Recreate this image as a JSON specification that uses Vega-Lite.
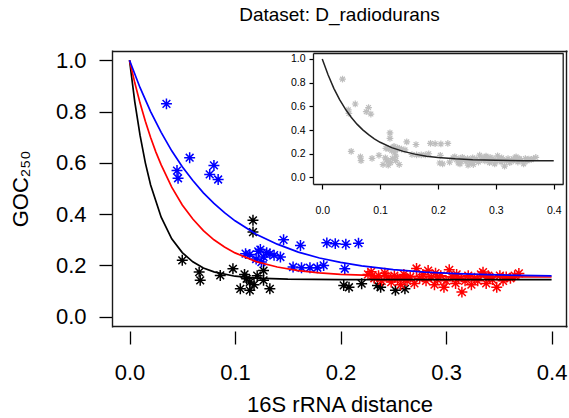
{
  "$schema": "https://vega.github.io/schema/vega-lite/v6.json",
  "width": 455,
  "height": 277,
  "autosize": "none",
  "padding": {"left": 112, "top": 50, "right": 2, "bottom": 91},
  "background": "white",
  "title": {"text": "Dataset: D_radiodurans", "fontSize": 19, "fontWeight": "normal", "color": "black", "anchor": "middle", "offset": 9, "baseline": "alphabetic"},
  "config": {
    "font": "Liberation Sans",
    "view": {"stroke": null},
    "axis": {"grid": false, "labelColor": "black", "tickColor": "black", "titleColor": "black"}
  },
  "datasets": {
    "pts": [
      {"group": "black", "x": 0.050, "y": 0.22},
      {"group": "black", "x": 0.066, "y": 0.174},
      {"group": "black", "x": 0.067, "y": 0.142},
      {"group": "black", "x": 0.086, "y": 0.161},
      {"group": "black", "x": 0.098, "y": 0.187},
      {"group": "black", "x": 0.105, "y": 0.109},
      {"group": "black", "x": 0.109, "y": 0.165},
      {"group": "black", "x": 0.111, "y": 0.148},
      {"group": "black", "x": 0.114, "y": 0.135},
      {"group": "black", "x": 0.114, "y": 0.103},
      {"group": "black", "x": 0.118, "y": 0.125},
      {"group": "black", "x": 0.117, "y": 0.376},
      {"group": "black", "x": 0.117, "y": 0.33},
      {"group": "black", "x": 0.127, "y": 0.18},
      {"group": "black", "x": 0.127, "y": 0.142},
      {"group": "black", "x": 0.133, "y": 0.109},
      {"group": "black", "x": 0.121, "y": 0.16},
      {"group": "black", "x": 0.203, "y": 0.122},
      {"group": "black", "x": 0.208, "y": 0.115},
      {"group": "black", "x": 0.220, "y": 0.129},
      {"group": "black", "x": 0.235, "y": 0.122},
      {"group": "black", "x": 0.238, "y": 0.115},
      {"group": "black", "x": 0.252, "y": 0.103},
      {"group": "black", "x": 0.261, "y": 0.109},
      {"group": "red", "x": 0.226, "y": 0.165},
      {"group": "red", "x": 0.229, "y": 0.175},
      {"group": "red", "x": 0.232, "y": 0.15},
      {"group": "red", "x": 0.236, "y": 0.16},
      {"group": "red", "x": 0.239, "y": 0.14},
      {"group": "red", "x": 0.242, "y": 0.17},
      {"group": "red", "x": 0.245, "y": 0.155},
      {"group": "red", "x": 0.248, "y": 0.135},
      {"group": "red", "x": 0.251, "y": 0.16},
      {"group": "red", "x": 0.254, "y": 0.148},
      {"group": "red", "x": 0.257, "y": 0.125},
      {"group": "red", "x": 0.260, "y": 0.165},
      {"group": "red", "x": 0.260, "y": 0.15},
      {"group": "red", "x": 0.263, "y": 0.14},
      {"group": "red", "x": 0.266, "y": 0.155},
      {"group": "red", "x": 0.270, "y": 0.13},
      {"group": "red", "x": 0.272, "y": 0.188},
      {"group": "red", "x": 0.275, "y": 0.15},
      {"group": "red", "x": 0.278, "y": 0.165},
      {"group": "red", "x": 0.281, "y": 0.14},
      {"group": "red", "x": 0.283, "y": 0.18},
      {"group": "red", "x": 0.286, "y": 0.155},
      {"group": "red", "x": 0.289, "y": 0.125},
      {"group": "red", "x": 0.290, "y": 0.17},
      {"group": "red", "x": 0.292, "y": 0.145},
      {"group": "red", "x": 0.295, "y": 0.16},
      {"group": "red", "x": 0.298, "y": 0.115},
      {"group": "red", "x": 0.300, "y": 0.14},
      {"group": "red", "x": 0.303, "y": 0.183},
      {"group": "red", "x": 0.306, "y": 0.155},
      {"group": "red", "x": 0.309, "y": 0.13},
      {"group": "red", "x": 0.310, "y": 0.165},
      {"group": "red", "x": 0.312, "y": 0.15},
      {"group": "red", "x": 0.315, "y": 0.096},
      {"group": "red", "x": 0.318, "y": 0.14},
      {"group": "red", "x": 0.321, "y": 0.16},
      {"group": "red", "x": 0.324, "y": 0.125},
      {"group": "red", "x": 0.327, "y": 0.15},
      {"group": "red", "x": 0.330, "y": 0.14},
      {"group": "red", "x": 0.333, "y": 0.165},
      {"group": "red", "x": 0.335, "y": 0.174},
      {"group": "red", "x": 0.338, "y": 0.13},
      {"group": "red", "x": 0.340, "y": 0.16},
      {"group": "red", "x": 0.341, "y": 0.155},
      {"group": "red", "x": 0.344, "y": 0.145},
      {"group": "red", "x": 0.348, "y": 0.115},
      {"group": "red", "x": 0.351, "y": 0.16},
      {"group": "red", "x": 0.354, "y": 0.14},
      {"group": "red", "x": 0.357, "y": 0.155},
      {"group": "red", "x": 0.361, "y": 0.15},
      {"group": "red", "x": 0.365, "y": 0.16},
      {"group": "red", "x": 0.369, "y": 0.169},
      {"group": "blue", "x": 0.035, "y": 0.83},
      {"group": "blue", "x": 0.057, "y": 0.62},
      {"group": "blue", "x": 0.045, "y": 0.57},
      {"group": "blue", "x": 0.046, "y": 0.54},
      {"group": "blue", "x": 0.080, "y": 0.59},
      {"group": "blue", "x": 0.076, "y": 0.555},
      {"group": "blue", "x": 0.084, "y": 0.535},
      {"group": "blue", "x": 0.146, "y": 0.30},
      {"group": "blue", "x": 0.162, "y": 0.278},
      {"group": "blue", "x": 0.187, "y": 0.288},
      {"group": "blue", "x": 0.195, "y": 0.285},
      {"group": "blue", "x": 0.205, "y": 0.283},
      {"group": "blue", "x": 0.217, "y": 0.287},
      {"group": "blue", "x": 0.110, "y": 0.246},
      {"group": "blue", "x": 0.114, "y": 0.243},
      {"group": "blue", "x": 0.122, "y": 0.255},
      {"group": "blue", "x": 0.124, "y": 0.262},
      {"group": "blue", "x": 0.127, "y": 0.233},
      {"group": "blue", "x": 0.130, "y": 0.25},
      {"group": "blue", "x": 0.133, "y": 0.245},
      {"group": "blue", "x": 0.137, "y": 0.24},
      {"group": "blue", "x": 0.143, "y": 0.233},
      {"group": "blue", "x": 0.125, "y": 0.213},
      {"group": "blue", "x": 0.120, "y": 0.225},
      {"group": "blue", "x": 0.155, "y": 0.194},
      {"group": "blue", "x": 0.163, "y": 0.191},
      {"group": "blue", "x": 0.171, "y": 0.191},
      {"group": "blue", "x": 0.178, "y": 0.191},
      {"group": "blue", "x": 0.184, "y": 0.200},
      {"group": "blue", "x": 0.204, "y": 0.187}
    ],
    "curves": [
      {"group": "black", "x": 0, "y": 1},
      {"group": "black", "x": 0.005, "y": 0.838},
      {"group": "black", "x": 0.01, "y": 0.707},
      {"group": "black", "x": 0.015, "y": 0.600},
      {"group": "black", "x": 0.02, "y": 0.514},
      {"group": "black", "x": 0.03, "y": 0.388},
      {"group": "black", "x": 0.04, "y": 0.304},
      {"group": "black", "x": 0.05, "y": 0.250},
      {"group": "black", "x": 0.06, "y": 0.214},
      {"group": "black", "x": 0.07, "y": 0.190},
      {"group": "black", "x": 0.08, "y": 0.175},
      {"group": "black", "x": 0.10, "y": 0.158},
      {"group": "black", "x": 0.12, "y": 0.1505},
      {"group": "black", "x": 0.15, "y": 0.1465},
      {"group": "black", "x": 0.2, "y": 0.145},
      {"group": "black", "x": 0.3, "y": 0.145},
      {"group": "black", "x": 0.4, "y": 0.145},
      {"group": "red", "x": 0, "y": 1},
      {"group": "red", "x": 0.005, "y": 0.912},
      {"group": "red", "x": 0.01, "y": 0.833},
      {"group": "red", "x": 0.015, "y": 0.762},
      {"group": "red", "x": 0.02, "y": 0.699},
      {"group": "red", "x": 0.025, "y": 0.642},
      {"group": "red", "x": 0.03, "y": 0.592},
      {"group": "red", "x": 0.04, "y": 0.505},
      {"group": "red", "x": 0.05, "y": 0.436},
      {"group": "red", "x": 0.06, "y": 0.381},
      {"group": "red", "x": 0.07, "y": 0.336},
      {"group": "red", "x": 0.08, "y": 0.300},
      {"group": "red", "x": 0.09, "y": 0.272},
      {"group": "red", "x": 0.10, "y": 0.249},
      {"group": "red", "x": 0.12, "y": 0.215},
      {"group": "red", "x": 0.14, "y": 0.194},
      {"group": "red", "x": 0.16, "y": 0.180},
      {"group": "red", "x": 0.18, "y": 0.171},
      {"group": "red", "x": 0.20, "y": 0.165},
      {"group": "red", "x": 0.25, "y": 0.1585},
      {"group": "red", "x": 0.30, "y": 0.156},
      {"group": "red", "x": 0.35, "y": 0.1554},
      {"group": "red", "x": 0.40, "y": 0.155},
      {"group": "blue", "x": 0, "y": 1},
      {"group": "blue", "x": 0.01, "y": 0.893},
      {"group": "blue", "x": 0.02, "y": 0.800},
      {"group": "blue", "x": 0.03, "y": 0.719},
      {"group": "blue", "x": 0.04, "y": 0.647},
      {"group": "blue", "x": 0.05, "y": 0.585},
      {"group": "blue", "x": 0.06, "y": 0.531},
      {"group": "blue", "x": 0.07, "y": 0.483},
      {"group": "blue", "x": 0.08, "y": 0.442},
      {"group": "blue", "x": 0.09, "y": 0.406},
      {"group": "blue", "x": 0.10, "y": 0.374},
      {"group": "blue", "x": 0.12, "y": 0.322},
      {"group": "blue", "x": 0.14, "y": 0.283},
      {"group": "blue", "x": 0.16, "y": 0.252},
      {"group": "blue", "x": 0.18, "y": 0.229},
      {"group": "blue", "x": 0.20, "y": 0.212},
      {"group": "blue", "x": 0.22, "y": 0.198},
      {"group": "blue", "x": 0.25, "y": 0.184},
      {"group": "blue", "x": 0.28, "y": 0.174},
      {"group": "blue", "x": 0.31, "y": 0.168},
      {"group": "blue", "x": 0.34, "y": 0.164},
      {"group": "blue", "x": 0.37, "y": 0.161},
      {"group": "blue", "x": 0.40, "y": 0.159}
    ],
    "icurve": [
      {"x": 0, "y": 1},
      {"x": 0.01, "y": 0.866},
      {"x": 0.02, "y": 0.752},
      {"x": 0.03, "y": 0.656},
      {"x": 0.04, "y": 0.576},
      {"x": 0.05, "y": 0.508},
      {"x": 0.06, "y": 0.450},
      {"x": 0.07, "y": 0.402},
      {"x": 0.08, "y": 0.361},
      {"x": 0.09, "y": 0.326},
      {"x": 0.10, "y": 0.297},
      {"x": 0.12, "y": 0.252},
      {"x": 0.14, "y": 0.220},
      {"x": 0.16, "y": 0.197},
      {"x": 0.18, "y": 0.180},
      {"x": 0.20, "y": 0.169},
      {"x": 0.23, "y": 0.157},
      {"x": 0.26, "y": 0.150},
      {"x": 0.30, "y": 0.145},
      {"x": 0.35, "y": 0.142},
      {"x": 0.40, "y": 0.141}
    ]
  },
  "layer": [
    {
      "layer": [
        {"data": {"name": "pts"}, "mark": {"type": "point", "shape": "M-1,0L1,0M0,-1L0,1M-0.707,-0.707L0.707,0.707M-0.707,0.707L0.707,-0.707", "filled": false, "size": 120, "strokeWidth": 1.5, "opacity": 1},
          "encoding": {
            "x": {"field": "x", "type": "quantitative",
              "scale": {"domain": [-0.0166, 0.4146], "range": [0, 455], "nice": false, "zero": false},
              "axis": {"orient": "bottom", "offset": 4, "values": [0, 0.1, 0.2, 0.3, 0.4], "format": ".1f", "tickSize": 13, "tickWidth": 1.3, "domain": false, "labelFontSize": 22, "labelPadding": 18, "labelFlush": false, "labelOverlap": false, "title": "16S rRNA distance", "titleFontSize": 22, "titleFontWeight": "normal", "titlePadding": 11}},
            "y": {"field": "y", "type": "quantitative",
              "scale": {"domain": [-0.04, 1.04], "range": [277, 0], "nice": false, "zero": false},
              "axis": {"orient": "left", "values": [0, 0.2, 0.4, 0.6, 0.8, 1], "format": ".1f", "tickSize": 13, "tickWidth": 1.3, "domain": true, "domainColor": "#1a1a1a", "domainWidth": 1.4, "labelFontSize": 22, "labelPadding": 13, "labelFlush": false, "labelOverlap": false, "title": "GOC₂₅₀", "titleFontSize": 22, "titleFontWeight": "normal", "titlePadding": 23}},
            "color": {"field": "group", "type": "nominal", "scale": {"domain": ["black", "red", "blue"], "range": ["#000000", "#ff0000", "#0000ff"]}, "legend": null}
          }},
        {"data": {"name": "curves"}, "mark": {"type": "line", "strokeWidth": 1.7},
          "encoding": {
            "x": {"field": "x", "type": "quantitative", "axis": null},
            "y": {"field": "y", "type": "quantitative", "axis": null},
            "color": {"field": "group", "type": "nominal", "legend": null}
          }},
        {"data": {"name": "curves"}, "mark": {"type": "line", "opacity": 0},
          "encoding": {
            "x": {"field": "x", "type": "quantitative", "axis": {"orient": "top", "offset": -1, "ticks": false, "labels": false, "domain": true, "domainColor": "#1a1a1a", "domainWidth": 1.4, "title": null}},
            "y": {"field": "y", "type": "quantitative", "axis": {"orient": "right", "offset": -1, "ticks": false, "labels": false, "domain": true, "domainColor": "#1a1a1a", "domainWidth": 1.4, "title": null}}
          }},
        {"data": {"name": "curves"}, "mark": {"type": "line", "opacity": 0},
          "encoding": {
            "x": {"field": "x", "type": "quantitative", "axis": {"orient": "bottom", "offset": -1, "ticks": false, "labels": false, "domain": true, "domainColor": "#1a1a1a", "domainWidth": 1.4, "title": null}},
            "y": {"field": "y", "type": "quantitative", "axis": null}
          }}
      ],
      "resolve": {"axis": {"x": "independent", "y": "independent"}}
    },
    {
      "layer": [
        {"data": {"name": "pts"}, "mark": {"type": "point", "shape": "M-1,0L1,0M0,-1L0,1M-0.707,-0.707L0.707,0.707M-0.707,0.707L0.707,-0.707", "filled": false, "size": 45, "strokeWidth": 1.2, "color": "#bebebe", "opacity": 1},
          "encoding": {
            "x": {"field": "x", "type": "quantitative",
              "scale": {"domain": [-0.016, 0.416], "range": [201, 451], "nice": false, "zero": false},
              "axis": {"orient": "bottom", "offset": -143, "values": [0, 0.1, 0.2, 0.3, 0.4], "format": ".1f", "tickSize": 5, "tickWidth": 1.2, "domain": true, "domainColor": "#1a1a1a", "domainWidth": 1.3, "labelFontSize": 10.5, "labelPadding": 16, "labelFlush": false, "labelOverlap": false, "title": null}},
            "y": {"field": "y", "type": "quantitative",
              "scale": {"domain": [-0.055, 1.05], "range": [134, 3], "nice": false, "zero": false},
              "axis": {"orient": "left", "offset": -201, "values": [0, 0.2, 0.4, 0.6, 0.8, 1], "format": ".1f", "tickSize": 4, "tickWidth": 1.2, "domain": true, "domainColor": "#1a1a1a", "domainWidth": 1.3, "labelFontSize": 10.5, "labelPadding": 4, "labelFlush": false, "labelOverlap": false, "title": null}}
          }},
        {"data": {"name": "icurve"}, "mark": {"type": "line", "color": "#222222", "strokeWidth": 1.5},
          "encoding": {
            "x": {"field": "x", "type": "quantitative", "axis": null},
            "y": {"field": "y", "type": "quantitative", "axis": null}
          }},
        {"data": {"name": "icurve"}, "mark": {"type": "line", "opacity": 0},
          "encoding": {
            "x": {"field": "x", "type": "quantitative", "axis": {"orient": "top", "offset": -3, "ticks": false, "labels": false, "domain": true, "domainColor": "#1a1a1a", "domainWidth": 1.3, "title": null}},
            "y": {"field": "y", "type": "quantitative", "axis": {"orient": "right", "offset": -4.3, "ticks": false, "labels": false, "domain": true, "domainColor": "#1a1a1a", "domainWidth": 1.3, "title": null}}
          }}
      ],
      "resolve": {"axis": {"x": "independent", "y": "independent"}}
    }
  ],
  "resolve": {"scale": {"x": "independent", "y": "independent", "color": "independent"}}
}
